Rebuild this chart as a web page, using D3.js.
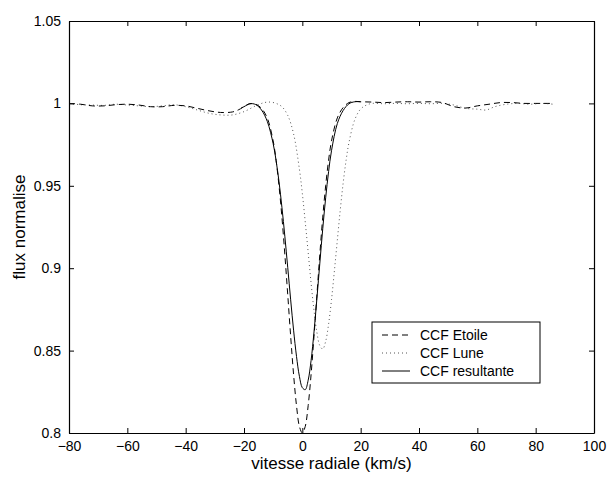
<!DOCTYPE html>
<html>
<head>
<meta charset="utf-8">
<script src="https://cdn.jsdelivr.net/npm/d3@7"></script>
<style>
  body { margin: 0; background: #fff; }
  svg { font-family: "Liberation Sans", Arial, sans-serif; }
</style>
</head>
<body>
<svg id="chart" width="608" height="477"></svg>
<script>
// Data (vitesse radiale km/s, flux normalise)
var xTicks = [-80, -60, -40, -20, 0, 20, 40, 60, 80, 100];
var yTicks = [0.8, 0.85, 0.9, 0.95, 1, 1.05];
var seriesNames = ["CCF Etoile", "CCF Lune", "CCF resultante"];

var ccfEtoile = [
  [-80,1.000],[-76,0.9995],[-72,0.9985],[-68,0.9985],[-64,0.9992],[-60,0.9995],[-56,0.999],
  [-52,0.998],[-48,0.998],[-44,0.9988],[-40,0.9985],[-36,0.997],[-32,0.9955],[-28,0.9945],
  [-24,0.9948],[-22,0.996],[-20,0.998],[-18,0.9998],[-16,0.9995],[-14,0.997],[-12,0.991],
  [-10,0.9772],[-9,0.9655],[-8,0.950],[-7,0.931],[-6,0.9084],[-5,0.8838],[-4,0.8587],
  [-3,0.8355],[-2,0.8166],[-1,0.804],[0,0.800],[1,0.804],[2,0.8166],[3,0.8355],[4,0.8587],
  [5,0.8838],[6,0.9084],[7,0.931],[8,0.950],[9,0.9655],[10,0.9772],[12,0.9912],[14,0.9975],
  [16,1.0005],[18,1.0012],[20,1.001],[24,1.0008],[28,1.0005],[32,1.0008],[36,1.001],
  [40,1.0008],[44,1.001],[48,1.0005],[52,0.998],[56,0.9972],[60,0.9985],[64,0.9995],
  [68,1.0005],[72,1.0005],[76,1.0],[80,1.0],[84,1.0],[86,1.0]
];
var ccfLune = [
  [-80,1.000],[-76,0.9992],[-72,0.999],[-68,0.9988],[-64,0.9995],[-60,0.999],[-56,0.9985],
  [-52,0.998],[-48,0.9985],[-44,0.9992],[-40,0.998],[-36,0.996],[-32,0.994],[-28,0.993],
  [-24,0.993],[-20,0.995],[-16,0.9985],[-13,1.0005],[-11,1.0008],[-9,1.0],[-7,0.998],
  [-5,0.9927],[-3,0.9815],[-1,0.960],[0,0.9454],[1,0.928],[2,0.9097],[3,0.891],[4,0.8744],
  [5,0.861],[6,0.853],[7,0.851],[8,0.8556],[9,0.866],[10,0.8808],[11,0.8985],[12,0.917],
  [13,0.9353],[14,0.9517],[15,0.9654],[16,0.9763],[18,0.9902],[20,0.9966],[22,0.999],
  [24,1.0],[28,0.9998],[32,1.0],[36,0.9998],[40,1.0],[44,0.9998],[48,1.0],[52,0.999],
  [56,0.997],[60,0.9965],[63,0.996],[66,0.998],[70,0.9995],[74,1.0],[78,0.9995],[82,1.0],[86,0.9995]
];
// the resulting CCF is only drawn around the dip
var ccfResultante = [
  [-21,0.9972],[-20,0.998],[-18,0.9998],[-16,0.9993],[-14,0.996],[-12,0.989],
  [-10,0.9756],[-9,0.9653],[-8,0.9525],[-7,0.937],[-6,0.9194],[-5,0.9003],[-4,0.8808],
  [-3,0.8624],[-2,0.8465],[-1,0.8344],[0,0.8275],[1,0.8263],[2,0.832],[3,0.844],[4,0.8613],
  [5,0.8817],[6,0.9031],[7,0.924],[8,0.9427],[9,0.9586],[10,0.9713],[12,0.9878],[14,0.9957],
  [16,0.9998],[18,1.001],[20,1.001]
];

// Layout
var svg = d3.select("#chart");
var margin = {left: 69, right: 14, top: 21, bottom: 44};
var w = 608, h = 477;
var x0 = margin.left, x1 = w - margin.right;
var y0 = margin.top, y1 = h - margin.bottom;

var xScale = d3.scaleLinear().domain([-80, 100]).range([x0, x1]);
var yScale = d3.scaleLinear().domain([0.8, 1.05]).range([y1, y0]);
var fmt = d3.format("~g");

svg.append("defs").append("clipPath").attr("id", "plotclip")
   .append("rect").attr("x", x0).attr("y", y0).attr("width", x1 - x0).attr("height", y1 - y0);

// curves
var line = d3.line()
  .x(function(d) { return xScale(d[0]); })
  .y(function(d) { return yScale(d[1]); })
  .curve(d3.curveCatmullRom);

var styles = [
  {data: ccfLune, stroke: "#555", dash: "1,3", width: 1},
  {data: ccfEtoile, stroke: "#000", dash: "6,4", width: 1},
  {data: ccfResultante, stroke: "#000", dash: null, width: 1}
];
var g = svg.append("g").attr("clip-path", "url(#plotclip)");
styles.forEach(function(s) {
  g.append("path")
   .attr("d", line(s.data))
   .attr("fill", "none")
   .attr("stroke", s.stroke)
   .attr("stroke-width", s.width)
   .attr("stroke-dasharray", s.dash);
});

// axes box
var bottomAxis = d3.axisBottom(xScale).tickValues(xTicks).tickFormat(fmt).tickSizeInner(-5).tickSizeOuter(0).tickPadding(8);
var topAxis = d3.axisTop(xScale).tickValues(xTicks).tickFormat("").tickSizeInner(-5).tickSizeOuter(0);
var leftAxis = d3.axisLeft(yScale).tickValues(yTicks).tickFormat(fmt).tickSizeInner(-5).tickSizeOuter(0).tickPadding(8);
var rightAxis = d3.axisRight(yScale).tickValues(yTicks).tickFormat("").tickSizeInner(-5).tickSizeOuter(0);

function styleAxis(sel) {
  sel.select(".domain").attr("stroke", "#000").attr("stroke-width", 1.2);
  sel.selectAll(".tick line").attr("stroke", "#000");
  sel.selectAll(".tick text").attr("fill", "#000").attr("font-size", 14)
     .attr("font-family", "'Liberation Sans', Arial, sans-serif");
}
svg.append("g").attr("transform", "translate(0," + y1 + ")").call(bottomAxis).call(styleAxis);
svg.append("g").attr("transform", "translate(0," + y0 + ")").call(topAxis).call(styleAxis);
svg.append("g").attr("transform", "translate(" + x0 + ",0)").call(leftAxis).call(styleAxis);
svg.append("g").attr("transform", "translate(" + x1 + ",0)").call(rightAxis).call(styleAxis);

// axis labels
svg.append("text")
   .attr("x", (x0 + x1) / 2).attr("y", 469)
   .attr("text-anchor", "middle").attr("font-size", 17)
   .text("vitesse radiale (km/s)");
svg.append("text")
   .attr("transform", "translate(25," + ((y0 + y1) / 2) + ") rotate(-90)")
   .attr("text-anchor", "middle").attr("font-size", 17)
   .text("flux normalise");

// legend
var lg = svg.append("g").attr("transform", "translate(372,322)");
lg.append("rect").attr("width", 168).attr("height", 61)
  .attr("fill", "#fff").attr("stroke", "#000").attr("stroke-width", 1);
var legendStyles = [styles[1], styles[0], styles[2]];
seriesNames.forEach(function(name, i) {
  var yy = 13 + i * 18;
  lg.append("line").attr("x1", 10).attr("x2", 38).attr("y1", yy).attr("y2", yy)
    .attr("stroke", legendStyles[i].stroke).attr("stroke-width", 1)
    .attr("stroke-dasharray", legendStyles[i].dash);
  lg.append("text").attr("x", 48).attr("y", yy + 5).attr("font-size", 14).text(name);
});
</script>
</body>
</html>
